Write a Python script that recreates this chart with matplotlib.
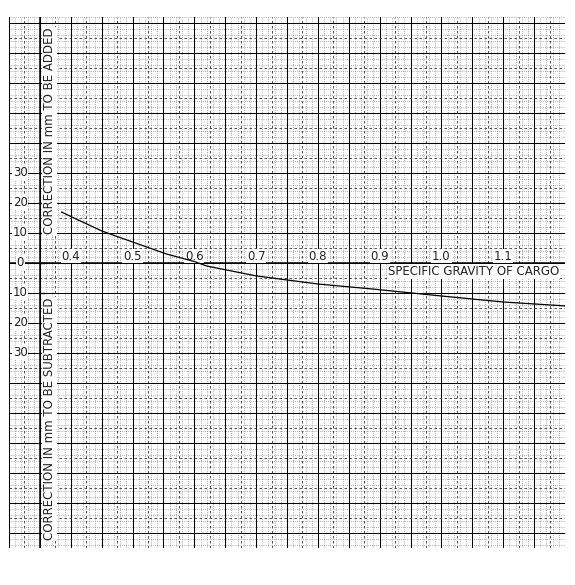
import numpy as np
import matplotlib.pyplot as plt

# curve
sg = [0.385, 0.40, 0.45, 0.50, 0.555, 0.60, 0.62, 0.70, 0.80, 0.89, 1.00, 1.10, 1.20]
corr = [17.0, 15.5, 10.7, 7.0, 3.0, 0.5, -1.0, -4.3, -7.0, -8.7, -11.0, -13.0, -14.3]

x_ticks = [0.4, 0.5, 0.6, 0.7, 0.8, 0.9, 1.0, 1.1]
x_tick_labels = ["0.4", "0.5", "0.6", "0.7", "0.8", "0.9", "1.0", "1.1"]
y_ticks = [30, 20, 10, 0, -10, -20, -30]
y_tick_labels = ["30", "20", "10", "0", "10", "20", "30"]

fig = plt.figure(figsize=(5.75, 5.85), dpi=100)
ax = fig.add_axes([9 / 575, 37 / 585, 556 / 575, 531 / 585])
ax.set_xlim(0.3, 1.2)
ax.set_ylim(-95, 82)

# graph paper: dotted fine grid, dashed half lines, solid major lines
for xv in np.arange(0.30, 1.2001, 0.01):
    k = int(round(xv * 100))
    if k % 5 == 0:
        ax.axvline(xv, color="black", lw=0.75, zorder=1)
    else:
        ax.axvline(xv, color="#666666", lw=0.5, ls=(0, (1, 2)), zorder=0)
for yv in np.arange(-94, 83, 2):
    if yv % 10 == 0:
        ax.axhline(yv, color="black", lw=0.75, zorder=1)
    else:
        ax.axhline(yv, color="#666666", lw=0.5, ls=(0, (1, 2)), zorder=0)
for yv in np.arange(-95, 83, 10):
    ax.axhline(yv, color="#333333", lw=0.6, ls=(0, (3, 3)), zorder=1)
for xv in np.arange(0.325, 1.2, 0.05):
    ax.axvline(xv, color="#333333", lw=0.6, ls=(0, (3, 3)), zorder=1)

# axes
ax.axvline(0.35, color="black", lw=1.1, zorder=2)
ax.axhline(0, color="black", lw=1.1, zorder=2)

txt = dict(family=["DejaVu Sans"], fontsize=8.5, color="#222222")
box = dict(facecolor="white", edgecolor="none", pad=0.6)
for v, lab in zip(y_ticks, y_tick_labels):
    ax.text(0.318, v, lab, ha="center", va="center", bbox=box, zorder=3, **txt)
    ax.plot([0.35, 0.356], [v, v], color="black", lw=1.0, zorder=3)
for v, lab in zip(x_ticks, x_tick_labels):
    ax.text(v, 2.3, lab, ha="center", va="center", bbox=box, zorder=3, **txt)

ax.text(0.366, 44, "CORRECTION IN mm TO BE ADDED", rotation=90,
        ha="center", va="center", bbox=box, zorder=3, **txt)
ax.text(0.366, -52, "CORRECTION IN mm TO BE SUBTRACTED", rotation=90,
        ha="center", va="center", bbox=box, zorder=3, **txt)
ax.text(1.19, -2.8, "SPECIFIC GRAVITY OF CARGO", ha="right", va="center",
        bbox=box, zorder=3, **txt)

ax.plot(sg, corr, color="black", lw=0.9, zorder=4)

ax.set_xticks([])
ax.set_yticks([])
for s in ax.spines.values():
    s.set_visible(False)

fig.savefig("out.png", dpi=100)
